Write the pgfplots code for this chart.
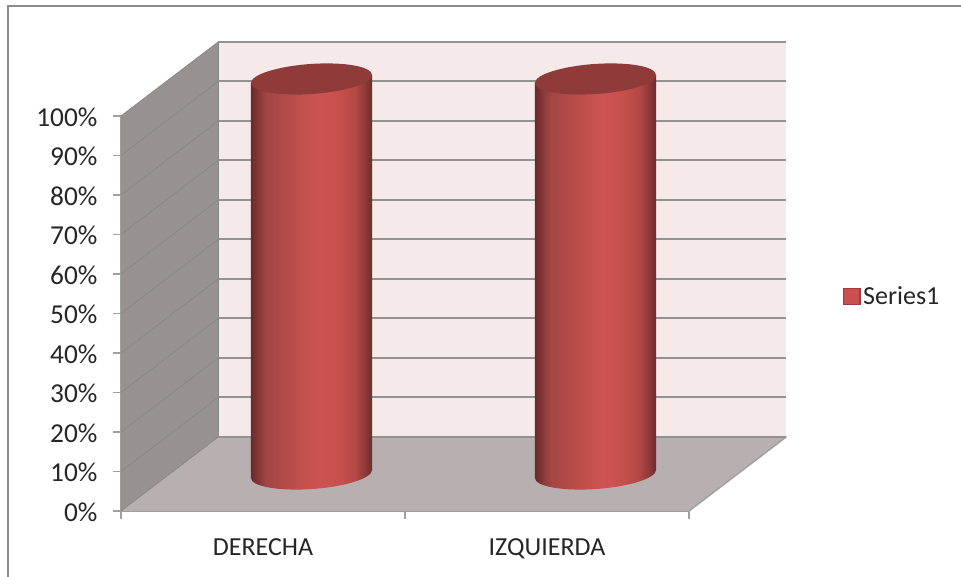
\documentclass[border=0pt]{standalone}
\usepackage{pgfplots}
\pgfplotsset{compat=1.18}
\usepackage{fontspec}
\setmainfont{Carlito}

% Colours of the 3D chart box
\definecolor{framegray}{HTML}{8C8C8C}
\definecolor{sidewall}{HTML}{979291}
\definecolor{floorgray}{HTML}{B8B0B0}
\definecolor{backwall}{HTML}{F5E9E9}
\definecolor{gridgray}{HTML}{929292}
\definecolor{sidegrid}{HTML}{868985}
\definecolor{axisgray}{HTML}{A0A0A0}
\definecolor{captop}{HTML}{8F3B3A}
\definecolor{labelcol}{HTML}{262626}
\definecolor{keyfill}{HTML}{C9504E}
\definecolor{keyrim}{HTML}{A03D3B}

% Stops of the cylinder body
\definecolor{cylA}{HTML}{6B2A2A}
\definecolor{cylB}{HTML}{A04543}
\definecolor{cylC}{HTML}{B84C4A}
\definecolor{cylD}{HTML}{CE5452}
\definecolor{cylE}{HTML}{C64F4D}
\definecolor{cylF}{HTML}{B34846}
\definecolor{cylG}{HTML}{8F3A39}
\definecolor{cylH}{HTML}{6B2C2B}

% Stops lie between 25bp and 75bp, the part fitted to the shape
\pgfdeclarehorizontalshading{cylbody}{100bp}{
  color(0bp)=(cylA);
  color(25bp)=(cylA);
  color(31bp)=(cylB);
  color(41bp)=(cylC);
  color(53bp)=(cylD);
  color(62bp)=(cylE);
  color(68bp)=(cylF);
  color(72bp)=(cylG);
  color(75bp)=(cylH);
  color(100bp)=(cylH)}

% Tilted end faces of the cylinders
\pgfdeclareplotmark{cyltop}{%
  \pgftransformyslant{0.066}%
  \pgfpathellipse{\pgfpointorigin}{\pgfqpoint{45.4pt}{0pt}}{\pgfqpoint{0pt}{11.3pt}}%
  \pgfsetfillcolor{captop}%
  \pgfusepath{fill}}
\pgfdeclareplotmark{cylbase}{%
  \pgftransformyslant{0.066}%
  \pgfpathellipse{\pgfpointorigin}{\pgfqpoint{45.4pt}{0pt}}{\pgfqpoint{0pt}{11.3pt}}%
  \pgfshadepath{cylbody}{0}%
  \pgfusepath{discard}}

\def\dx{0.3433}
\def\dy{18.8}

\begin{document}
\begin{tikzpicture}
\useasboundingbox (0,0) rectangle (720.75pt,432.75pt);

% Chart area border, open to the right and below
\draw[framegray,line width=1.5pt] (6pt,0) -- (6pt,428.2pt) -- (720.75pt,428.2pt);

% Front plane: walls, floor, axis lines and tick labels
\begin{axis}[
  at={(90.75pt,49.5pt)}, anchor=south west,
  scale only axis, width=426pt, height=296.25pt,
  xmin=0, xmax=2, ymin=0, ymax=100,
  clip=false,
  axis x line*=bottom, axis y line*=left,
  axis line style={axisgray,line width=1.2pt,-},
  tick align=outside, major tick length=6pt,
  tick style={axisgray,line width=1.2pt},
  xtick={0,1,2}, xticklabels={},
  extra x ticks={0.5,1.5},
  extra x tick labels={DERECHA,IZQUIERDA},
  extra x tick style={major tick length=0pt,tick style={draw=none}},
  ytick={0,10,...,100},
  yticklabel={\pgfmathprintnumber{\tick}\%},
  /pgf/number format/assume math mode=true,
  tick label style={text=labelcol},
  xticklabel style={yshift=-17pt,font=\fontsize{19.5}{22}\selectfont},
  yticklabel style={xshift=-10.5pt,yshift=-0.75pt,inner xsep=1pt,font=\fontsize{20.5}{22}\selectfont},
]
  % floor
  \fill[floorgray] (axis cs:0,0) -- (axis cs:2,0) -- (axis cs:2+\dx,\dy) -- (axis cs:\dx,\dy) -- cycle;
  \draw[axisgray,line width=1.1pt] (axis cs:2,0) -- (axis cs:2+\dx,\dy);
  % side wall
  \fill[sidewall] (axis cs:0,0) -- (axis cs:\dx,\dy) -- (axis cs:\dx,100+\dy) -- (axis cs:0,100) -- cycle;
  % back wall
  \fill[backwall] (axis cs:\dx,\dy) rectangle (axis cs:2+\dx,100+\dy);
  % gridlines running along the side wall and the back wall
  \pgfplotsinvokeforeach{10,20,...,100}{
    \draw[sidegrid,line width=0.6pt] (axis cs:0,#1) -- (axis cs:\dx,#1+\dy);
    \draw[gridgray,line width=1.6pt] (axis cs:\dx,#1+\dy) -- (axis cs:2+\dx,#1+\dy);
  }
  \draw[gridgray,line width=1.5pt] (axis cs:\dx,\dy) -- (axis cs:2+\dx,\dy);
  \draw[sidegrid,line width=0.6pt] (axis cs:0,0) -- (axis cs:\dx,\dy);
  \draw[sidegrid,line width=0.6pt] (axis cs:\dx,\dy) -- (axis cs:\dx,100+\dy);
\end{axis}

% Cylinders stand in the middle of the floor depth
\begin{axis}[
  at={(127.1pt,77.25pt)}, anchor=south west,
  scale only axis, width=426pt, height=296.25pt,
  xmin=0, xmax=2, ymin=0, ymax=100,
  clip=false, hide axis,
  legend style={at={(1.185,0.449)},anchor=west,draw=none,fill=none,
    font=\fontsize{19.5}{22}\selectfont,text=labelcol,inner sep=0pt,
    legend cell align=left},
]
  \addplot[only marks,mark=cylbase,forget plot] coordinates {(0.5,0) (1.5,0)};

  \addplot[ybar,bar width=90.8pt,bar shift=0pt,draw=none,shade,shading=cylbody,
    yshift=-7.03pt,yslant=0.066,forget plot]
    coordinates {(0.5,100)};

  \addplot[ybar,bar width=90.8pt,bar shift=0pt,draw=none,shade,shading=cylbody,
    yshift=-21.09pt,yslant=0.066,forget plot]
    coordinates {(1.5,100)};

  \addplot[only marks,mark=cyltop,forget plot] coordinates {(0.5,100) (1.5,100)};

  \addlegendimage{legend image code/.code={
      \draw[draw=keyrim,line width=0.9pt,fill=keyfill]
        (0pt,-6pt) rectangle (12.4pt,6pt);}}
  \addlegendentry{Series1}
\end{axis}
\end{tikzpicture}
\end{document}
